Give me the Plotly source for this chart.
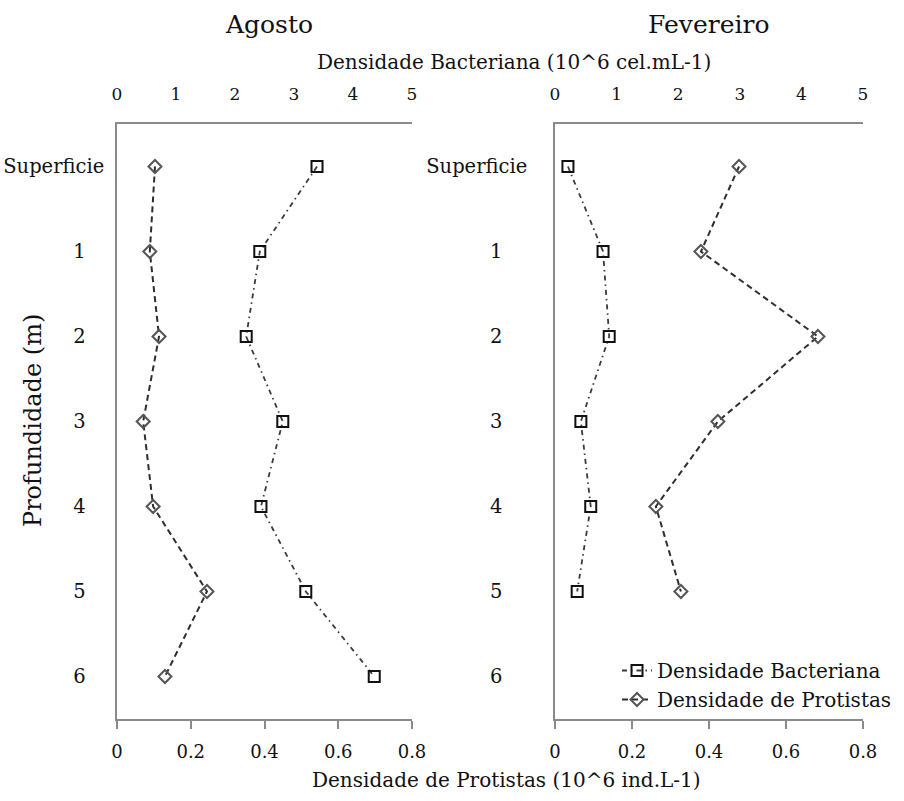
import plotly.graph_objects as go

# ---- data ----
depths = ["Superficie", "1", "2", "3", "4", "5", "6"]
ago_bact = [3.39, 2.42, 2.19, 2.81, 2.44, 3.20, 4.36]
ago_prot = [0.103, 0.089, 0.114, 0.071, 0.098, 0.244, 0.130]
fev_depths = ["Superficie", "1", "2", "3", "4", "5"]
fev_bact = [0.21, 0.78, 0.88, 0.42, 0.58, 0.36]
fev_prot = [0.478, 0.379, 0.683, 0.423, 0.262, 0.327]
bot_ticks = [0, 0.2, 0.4, 0.6, 0.8]
top_ticks = [0, 1, 2, 3, 4, 5]

W, H = 904, 801
FONT = "DejaVu Serif"
AXC = "#8a8a8a"

def px(x):
    return x / W

def py(y):
    return 1 - y / H

ydom = [py(719), py(124)]
xdom_l = [px(117), px(412)]
xdom_r = [px(555), px(863)]

bact_line = dict(color="#3a3a3a", width=1.8, dash="5px,4px,1.5px,4px")
prot_line = dict(color="#2e2e2e", width=2, dash="6px,4px")
bact_marker = dict(symbol="square-open", size=11, color="#111", line=dict(width=2, color="#111"))
prot_marker = dict(symbol="diamond-open", size=10, color="#555", line=dict(width=2, color="#555"))

fig = go.Figure()
fig.add_trace(go.Scatter(x=ago_bact, y=depths, xaxis="x2", yaxis="y", mode="lines+markers",
                         line=bact_line, marker=bact_marker, showlegend=False,
                         name="Densidade Bacteriana"))
fig.add_trace(go.Scatter(x=ago_prot, y=depths, xaxis="x", yaxis="y", mode="lines+markers",
                         line=prot_line, marker=prot_marker, showlegend=False,
                         name="Densidade de Protistas"))
fig.add_trace(go.Scatter(x=fev_bact, y=fev_depths, xaxis="x4", yaxis="y2", mode="lines+markers",
                         line=bact_line, marker=bact_marker, showlegend=True,
                         name="Densidade Bacteriana"))
fig.add_trace(go.Scatter(x=fev_prot, y=fev_depths, xaxis="x3", yaxis="y2", mode="lines+markers",
                         line=prot_line, marker=prot_marker, showlegend=True,
                         name="Densidade de Protistas"))

def ylabels(n_pad):
    pad = "\u00a0" * n_pad
    return [d if d == "Superficie" else d + pad for d in depths]

bottom_ax = dict(range=[0, 0.8], tickvals=bot_ticks, ticktext=[f"{v:g}" for v in bot_ticks],
                 ticks="outside", ticklen=8, tickwidth=1.5, tickcolor=AXC,
                 showline=True, linecolor=AXC, linewidth=1.8, showgrid=False, zeroline=False,
                 tickfont=dict(family=FONT, size=18, color="#111"), ticklabelstandoff=7,
                 side="bottom", automargin=False)
top_ax = dict(range=[0, 5], tickvals=top_ticks, ticks="", showline=True, linecolor=AXC,
              linewidth=1.8, showgrid=False, zeroline=False,
              tickfont=dict(family=FONT, size=17, color="#111"), ticklabelstandoff=15,
              side="top", automargin=False)
y_ax = dict(type="category", categoryorder="array", categoryarray=depths,
            range=[6.5, -0.5], tickvals=depths, ticks="",
            showline=True, linecolor=AXC, linewidth=1.8, showgrid=False, zeroline=False,
            tickfont=dict(family=FONT, size=19.5, color="#111"), domain=ydom, automargin=False)

fig.update_layout(
    width=W, height=H,
    margin=dict(l=0, r=0, t=0, b=0, autoexpand=False),
    paper_bgcolor="white", plot_bgcolor="white",
    xaxis=dict(bottom_ax, domain=xdom_l, anchor="y"),
    xaxis2=dict(top_ax, overlaying="x", anchor="y"),
    xaxis3=dict(bottom_ax, domain=xdom_r, anchor="y2"),
    xaxis4=dict(top_ax, overlaying="x3", anchor="y2"),
    yaxis=dict(y_ax, anchor="x", ticklabelstandoff=7, ticktext=ylabels(3)),
    yaxis2=dict(y_ax, anchor="x3", ticklabelstandoff=22, ticktext=ylabels(4)),
    legend=dict(x=px(617), y=py(651), xanchor="left", yanchor="top",
                font=dict(family=FONT, size=20, color="#111"),
                bgcolor="rgba(0,0,0,0)", tracegroupgap=0),
    annotations=[
        dict(text="Agosto", x=px(269), y=py(25), xref="paper", yref="paper", showarrow=False,
             font=dict(family=FONT, size=25, color="#111"), xanchor="center", yanchor="middle"),
        dict(text="Fevereiro", x=px(708), y=py(25), xref="paper", yref="paper", showarrow=False,
             font=dict(family=FONT, size=25, color="#111"), xanchor="center", yanchor="middle"),
        dict(text="Densidade Bacteriana (10^6 cel.mL-1)", x=px(514), y=py(62), xref="paper",
             yref="paper", showarrow=False, font=dict(family=FONT, size=20, color="#111"),
             xanchor="center", yanchor="middle"),
        dict(text="Densidade de Protistas (10^6 ind.L-1)", x=px(506), y=py(780), xref="paper",
             yref="paper", showarrow=False, font=dict(family=FONT, size=20, color="#111"),
             xanchor="center", yanchor="middle"),
        dict(text="Profundidade (m)", x=px(33), y=py(421), xref="paper", yref="paper",
             showarrow=False, textangle=-90, font=dict(family=FONT, size=24, color="#111"),
             xanchor="center", yanchor="middle"),
    ],
)

fig.write_html("out.html")
